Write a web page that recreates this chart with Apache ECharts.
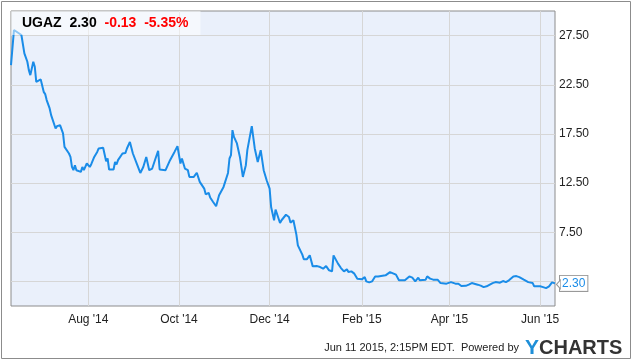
<!DOCTYPE html>
<html>
<head>
<meta charset="utf-8">
<script src="https://cdn.jsdelivr.net/npm/echarts@6/dist/echarts.min.js"></script>
<style>
  html, body { margin: 0; padding: 0; background: #fff; }
  #chart { width: 635px; height: 362px; }
</style>
</head>
<body>
<div id="chart"></div>
<script>
// ---- data ----
const ticker = 'UGAZ';
const lastPrice = 2.30;
const change = '-0.13';
const changePct = '-5.35%';
const footerText = 'Jun 11 2015, 2:15PM EDT.  Powered by';

const dates = ['2014-06-10','2014-06-11','2014-06-12','2014-06-13','2014-06-17','2014-06-19','2014-06-21','2014-06-22','2014-06-23','2014-06-25','2014-06-26','2014-06-27','2014-06-28','2014-06-30',
'2014-07-01','2014-07-02','2014-07-03','2014-07-04','2014-07-06','2014-07-07','2014-07-08','2014-07-10','2014-07-11','2014-07-13','2014-07-14','2014-07-15','2014-07-16','2014-07-17','2014-07-19','2014-07-20','2014-07-21','2014-07-22','2014-07-23','2014-07-24','2014-07-25','2014-07-27','2014-07-28','2014-07-29','2014-07-31',
'2014-08-02','2014-08-03','2014-08-05','2014-08-07','2014-08-08','2014-08-11','2014-08-13','2014-08-14','2014-08-15','2014-08-18','2014-08-19','2014-08-20','2014-08-21','2014-08-22','2014-08-24','2014-08-26','2014-08-27','2014-08-29','2014-08-31',
'2014-09-03','2014-09-05','2014-09-07','2014-09-09','2014-09-11','2014-09-13','2014-09-15','2014-09-17','2014-09-18','2014-09-22','2014-09-23','2014-09-25','2014-09-28','2014-09-30',
'2014-10-02','2014-10-03','2014-10-05','2014-10-07','2014-10-08','2014-10-11','2014-10-13','2014-10-15','2014-10-16','2014-10-18','2014-10-19','2014-10-21','2014-10-22','2014-10-24','2014-10-26','2014-10-28','2014-10-31',
'2014-11-03','2014-11-04','2014-11-05','2014-11-06','2014-11-07','2014-11-09','2014-11-11','2014-11-13','2014-11-15','2014-11-16','2014-11-17','2014-11-19','2014-11-21','2014-11-23','2014-11-25','2014-11-27','2014-11-29',
'2014-12-01','2014-12-02','2014-12-04','2014-12-05','2014-12-08','2014-12-09','2014-12-10','2014-12-12','2014-12-14','2014-12-15','2014-12-17','2014-12-19','2014-12-20','2014-12-23','2014-12-24','2014-12-26','2014-12-28','2014-12-30',
'2015-01-02','2015-01-04','2015-01-06','2015-01-08','2015-01-10','2015-01-12','2015-01-13','2015-01-16','2015-01-18','2015-01-20','2015-01-22','2015-01-23','2015-01-25','2015-01-27','2015-01-29',
'2015-02-01','2015-02-03','2015-02-04','2015-02-06','2015-02-08','2015-02-10','2015-02-11','2015-02-12','2015-02-17','2015-02-20','2015-02-21','2015-02-24','2015-02-26',
'2015-03-02','2015-03-05','2015-03-07','2015-03-09','2015-03-11','2015-03-12','2015-03-16','2015-03-17','2015-03-19','2015-03-21','2015-03-24','2015-03-26','2015-03-30',
'2015-04-02','2015-04-05','2015-04-07','2015-04-09','2015-04-12','2015-04-14','2015-04-16','2015-04-17','2015-04-20','2015-04-22','2015-04-24','2015-04-26','2015-04-30',
'2015-05-02','2015-05-05','2015-05-07','2015-05-09','2015-05-11','2015-05-14','2015-05-16','2015-05-18','2015-05-21','2015-05-24','2015-05-27','2015-05-28',
'2015-06-01','2015-06-03','2015-06-05','2015-06-07','2015-06-09','2015-06-11'];

const prices = [24.50,24.33,28.07,28.00,27.56,25.69,24.84,23.99,23.48,24.84,24.33,22.80,22.64,23.04,
23.00,21.78,21.55,20.94,20.09,19.41,19.24,18.05,18.29,18.39,18.49,17.55,16.18,16.02,15.51,15.16,14.14,13.81,14.32,13.81,13.74,13.64,14.14,13.81,14.49,
14.14,14.42,15.16,15.67,16.02,16.10,14.72,15.00,13.88,13.88,14.65,14.39,14.83,14.65,15.51,15.57,16.02,16.69,15.51,
14.32,13.53,14.14,15.16,13.81,13.98,14.90,15.77,13.88,13.81,13.64,14.83,15.67,16.25,
14.49,15.00,13.98,13.81,13.13,13.13,13.55,12.62,12.52,11.94,11.36,11.50,11.03,10.58,10.14,11.26,12.11,
13.53,15.00,15.34,17.88,17.20,16.53,15.16,13.13,14.32,15.85,15.67,18.29,16.02,14.65,15.85,13.81,12.79,
11.94,10.07,8.72,9.81,8.44,8.72,8.61,9.28,9.05,8.48,8.72,7.26,6.17,5.22,4.75,4.75,5.15,4.03,
4.06,3.96,3.80,4.06,3.63,3.52,5.15,4.31,3.86,3.52,3.73,3.45,3.52,3.29,2.78,
2.71,2.94,2.51,2.40,2.51,3.01,2.91,3.01,3.12,3.45,3.29,3.19,2.61,
2.61,3.01,2.88,2.51,2.88,2.61,2.68,3.01,2.78,2.68,2.68,2.33,2.27,
2.43,2.27,2.27,2.03,2.05,2.17,2.33,2.20,2.17,2.07,1.92,2.00,2.33,
2.43,2.37,2.54,2.43,2.61,3.01,3.04,2.94,2.68,2.43,2.33,2.00,
2.00,1.92,1.82,2.00,2.40,2.30];

const xTickDates = ['2014-08-01','2014-10-01','2014-12-01','2015-02-01','2015-04-01','2015-06-01'];
const xTickLabels = ["Aug '14","Oct '14","Dec '14","Feb '15","Apr '15","Jun '15"];
const yTickLabels = [7.5, 12.5, 17.5, 22.5, 27.5];
const xRange = ['2014-06-10', '2015-06-11'];

// ---- helpers ----
function ts(s) { const p = s.split('-').map(Number); return new Date(p[0], p[1] - 1, p[2]).getTime(); }
const xTickTs = xTickDates.map(ts);
const seriesData = dates.map((d, i) => [ts(d), prices[i]]);
const lastPoint = seriesData[seriesData.length - 1];

const FONT = 'Arial, "Liberation Sans", sans-serif';
const chart = echarts.init(document.getElementById('chart'), null, { renderer: 'canvas' });

chart.setOption({
  animation: false,
  textStyle: { fontFamily: FONT },
  title: {
    text: '{k|' + ticker + '}  {k|' + lastPrice.toFixed(2) + '}  {r|' + change + '}  {r|' + changePct + '}',
    left: 11, top: 11,
    padding: [4, 12, 4, 11],
    backgroundColor: 'rgba(255,255,255,0.5)',
    textStyle: {
      fontFamily: FONT, fontSize: 14, fontWeight: 'bold', color: '#000', lineHeight: 16,
      rich: {
        k: { fontFamily: FONT, fontSize: 14, fontWeight: 'bold', color: '#000', lineHeight: 16 },
        r: { fontFamily: FONT, fontSize: 14, fontWeight: 'bold', color: '#ff0000', lineHeight: 16 }
      }
    }
  },
  grid: {
    left: 11, top: 11, right: 80, bottom: 56,
    show: true, backgroundColor: '#eaf0fb', borderColor: '#8c8c8c', borderWidth: 1
  },
  xAxis: {
    type: 'value',
    min: ts(xRange[0]), max: ts(xRange[1]),
    axisLine: { show: false },
    axisTick: { show: false, customValues: xTickTs },
    axisLabel: {
      customValues: xTickTs,
      margin: 8, color: '#222', fontSize: 12, fontFamily: FONT,
      formatter: function (v) {
        const i = xTickTs.indexOf(v);
        return i >= 0 ? xTickLabels[i] : '';
      }
    },
    splitLine: { show: true, lineStyle: { color: '#d6d6d6', width: 1 } }
  },
  yAxis: {
    type: 'value', position: 'right',
    min: 0, max: 30, interval: 2.5,
    axisLine: { show: false },
    axisTick: { show: false },
    axisLabel: {
      margin: 4, color: '#222', fontSize: 12, fontFamily: FONT,
      formatter: function (v) {
        return yTickLabels.some(t => Math.abs(t - v) < 1e-6) ? v.toFixed(2) : '';
      }
    },
    splitLine: { show: true, lineStyle: { color: ['rgba(0,0,0,0)', '#d6d6d6'], width: 1 } }
  },
  series: [{
    type: 'line',
    data: seriesData,
    showSymbol: false,
    symbol: 'none',
    lineStyle: { color: '#1a8ce8', width: 2 },
    itemStyle: { color: '#1a8ce8' },
    endLabel: {
      show: true,
      formatter: function () { return lastPrice.toFixed(2); },
      color: '#1a8ce8', fontSize: 12, fontFamily: FONT,
      backgroundColor: '#fff', borderColor: '#999', borderWidth: 1,
      padding: [2, 2, 1, 2], distance: 5
    },
    markPoint: {
      silent: true,
      symbol: 'triangle', symbolRotate: 90, symbolSize: [9, 4], symbolOffset: [3.5, 1],
      itemStyle: { color: '#fff', borderColor: '#999', borderWidth: 1 },
      label: { show: false },
      data: [{ coord: lastPoint }]
    }
  }],
  graphic: [
    {
      type: 'rect', silent: true, z: 100,
      shape: { x: 1.5, y: 1.5, width: 629, height: 357 },
      style: { fill: 'none', stroke: '#8c8c8c', lineWidth: 1 }
    },
    {
      type: 'text', silent: true, x: 519, y: 348,
      style: { text: footerText, fontSize: 11, fontFamily: FONT, fill: '#222', align: 'right', verticalAlign: 'middle' }
    },
    {
      type: 'text', silent: true, x: 525, y: 348,
      style: {
        text: '{y|Y}{c|CHARTS}', verticalAlign: 'middle', align: 'left',
        rich: {
          y: { fontSize: 21, fontWeight: 'bold', fontFamily: FONT, fill: '#1e8fd8', color: '#1e8fd8' },
          c: { fontSize: 20, fontWeight: 'bold', fontFamily: FONT, fill: '#333', color: '#333' }
        }
      }
    }
  ]
});
</script>
</body>
</html>
